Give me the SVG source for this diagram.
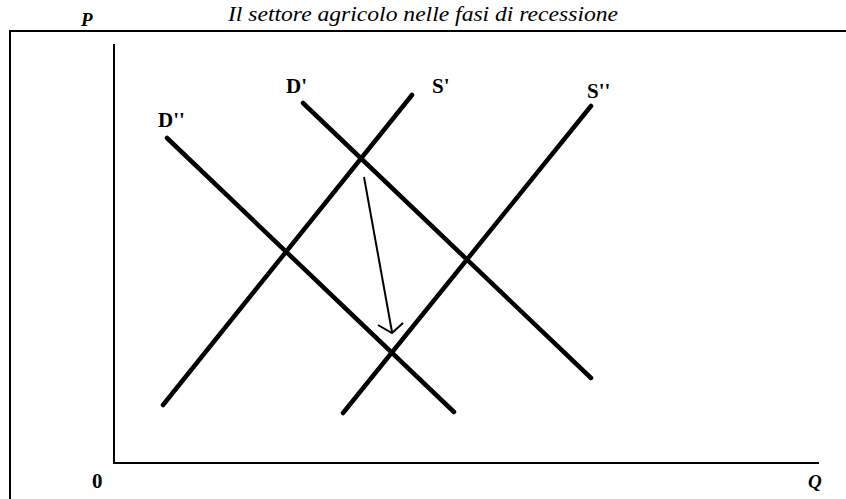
<svg xmlns="http://www.w3.org/2000/svg" width="846" height="499" viewBox="0 0 846 499">
<style>
.curve{stroke:#000;stroke-width:4.5;stroke-linecap:round;fill:none}
.axis{stroke:#000;stroke-width:2;fill:none}
.serif{font-family:"Liberation Serif","Times New Roman",Times,"DejaVu Serif",serif}
.lbl{font-weight:bold;font-size:21px;fill:#000}
.ax{font-weight:bold;font-style:italic;font-size:19px;fill:#000}
</style>
<rect width="846" height="499" fill="#fff"/>
<text class="serif" x="423" y="21" text-anchor="middle" font-style="italic" font-size="22" textLength="390" lengthAdjust="spacingAndGlyphs">Il settore agricolo nelle fasi di recessione</text>
<g id="frame"><path class="axis" d="M10 499 V31 H846"/></g>
<g id="axes">
<path class="axis" d="M114 44 V463 H819"/>
<text class="serif ax" x="81" y="26">P</text>
<text class="serif lbl" x="92" y="488" font-size="19">0</text>
<text class="serif ax" x="808" y="488">Q</text>
</g>
<g id="connectors">
<g id="D2"><line class="curve" x1="167" y1="138" x2="454" y2="412"/><text class="serif lbl" x="158" y="127">D''</text></g>
<g id="D1"><line class="curve" x1="303" y1="103" x2="591" y2="378"/><text class="serif lbl" x="286" y="93">D'</text></g>
<g id="S1"><line class="curve" x1="163" y1="405" x2="412" y2="95"/><text class="serif lbl" x="432" y="93">S'</text></g>
<g id="S2"><line class="curve" x1="343" y1="413" x2="591" y2="106"/><text class="serif lbl" x="587" y="98">S''</text></g>
<g id="shift"><path d="M364 177 L392 332" stroke="#000" stroke-width="2" fill="none"/><path d="M378 325 L392 333 L403 323" stroke="#000" stroke-width="2" fill="none"/></g>
</g>
</svg>
